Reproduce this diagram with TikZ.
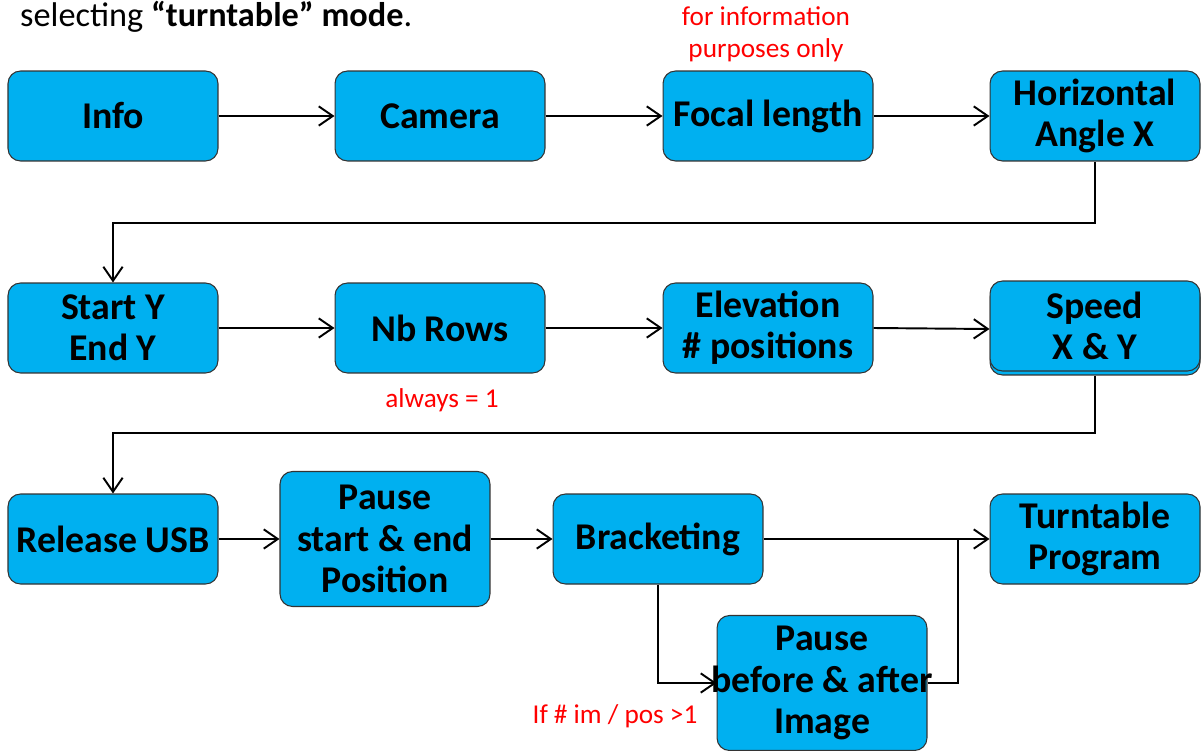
\documentclass[tikz,border=0pt]{standalone}
\usepackage{fontspec}
\setmainfont{Carlito}
\usetikzlibrary{positioning, arrows.meta, shadows}

\definecolor{boxblue}{HTML}{00B0F0}

\begin{document}
\begin{tikzpicture}[x=0.02cm, y=-0.02cm,
    stepbox/.style={draw=black!80, fill=boxblue, line width=0.6pt, rounded corners=0.25cm,
        minimum width=4.2cm, minimum height=1.8cm, align=center, inner sep=0pt,
        font=\fontsize{21.5}{23.5}\selectfont\bfseries},
    note/.style={text=red, align=center, font=\fontsize{15.5}{18}\selectfont},
    flow/.style={-{Straight Barb[length=8pt,width=11pt]}, line width=1.1pt}]
    % fix the page to the reference size
    \useasboundingbox (0,0) rectangle (1202,750);

    % Heading text, cut at the top
    \node[anchor=west, font=\fontsize{19.5}{22}\selectfont] (head) at (14,17)
        {selecting \textbf{“turntable” mode}.};

    % First row
    \node[stepbox] (info) at (113,116) {Info};
    \node[stepbox] (camera) at (440,116) {Camera};
    \node[stepbox] (focal) at (768,116) {Focal length};
    \node[stepbox] (horiz) at (1095,116) {Horizontal\\Angle X};
    \node[note] (infonote) at (766,34) {for information\\purposes only};

    % Second row
    \node[stepbox] (starty) at (113,328) {Start Y\\End Y};
    \node[stepbox] (rows) at (440,328) {Nb Rows};
    \node[stepbox] (elev) at (768,328) {Elevation\\\# positions};
    \node[stepbox, copy shadow={shadow xshift=0pt, shadow yshift=-0.08cm}] (speed) at (1095,326) {Speed\\X \& Y};
    \node[note] (rowsnote) at (442,400) {always = 1};

    % Third row
    \node[stepbox] (usb) at (113,539) {Release USB};
    \node[stepbox, minimum height=2.7cm] (pausepos) at (385,539) {Pause\\start \& end\\Position};
    \node[stepbox] (bracket) at (658,539) {Bracketing};
    \node[stepbox] (turn) at (1095,539) {Turntable\\Program};
    \node[stepbox, minimum height=2.7cm] (pauseimg) at (822,683)
        {Pause\\\makebox[3.8cm]{before \& after}\\Image};
    \node[note] (bracketnote) at (615,716) {If \# im / pos >1};

    % Connectors
    \coordinate (join) at (958,539);
    \draw[flow] (info) -- (camera);
    \draw[flow] (camera) -- (focal);
    \draw[flow] (focal) -- (horiz);
    \draw[flow] (horiz.south) |- (113,223) -- (starty.north);
    \draw[flow] (starty) -- (rows);
    \draw[flow] (rows) -- (elev);
    \draw[flow] (elev.east) -- ([yshift=-0.06cm]speed.west);
    \draw[flow] ([yshift=-0.08cm]speed.south) |- (113,433) -- (usb.north);
    \draw[flow] (usb) -- (pausepos);
    \draw[flow] (pausepos) -- (bracket);
    \draw[flow] (bracket) -- (turn);
    \draw[flow] (bracket.south) |- (pauseimg.west);
    \draw[line width=1.1pt] (pauseimg.east) -| (join);
\end{tikzpicture}
\end{document}
